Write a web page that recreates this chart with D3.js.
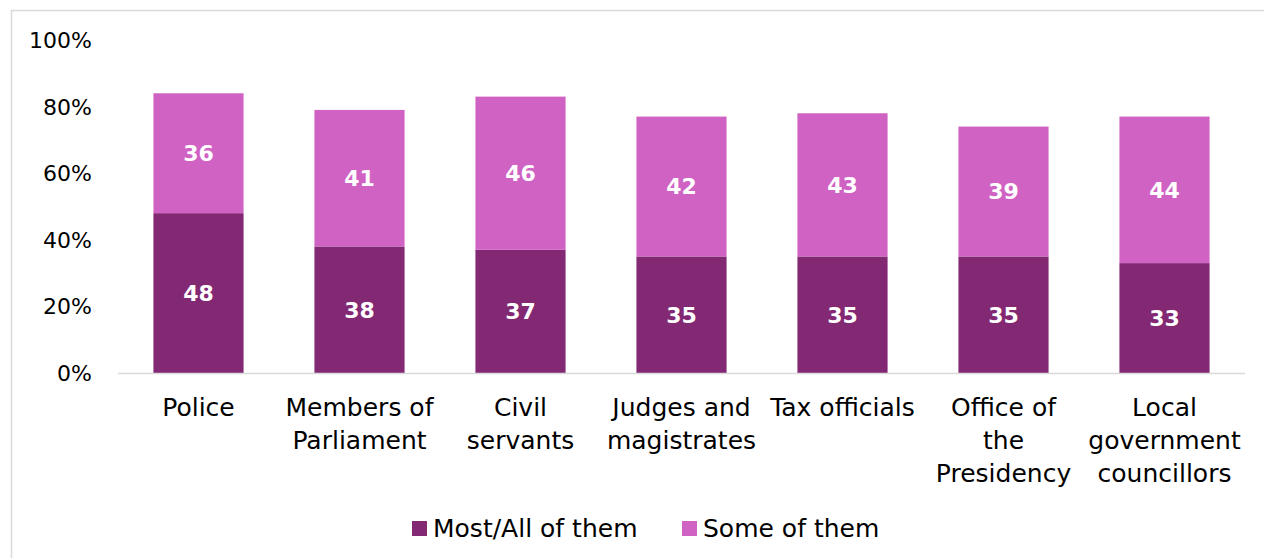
<!DOCTYPE html>
<html>
<head>
<meta charset="utf-8">
<script src="https://cdn.jsdelivr.net/npm/d3@7"></script>
<style>
  body { margin: 0; background: #fff; }
  svg { display: block; font-family: "Century Gothic", "DejaVu Sans", sans-serif; }
</style>
</head>
<body>
<div id="chart"></div>
<script>
const categories = ['Police', 'Members of Parliament', 'Civil servants', 'Judges and magistrates',
    'Tax officials', 'Office of the Presidency', 'Local government councillors'];
// how each category label wraps under the axis
const labelLines = [['Police'], ['Members of', 'Parliament'], ['Civil', 'servants'], ['Judges and', 'magistrates'],
    ['Tax officials'], ['Office of', 'the', 'Presidency'], ['Local', 'government', 'councillors']];
const mostAll = [48, 38, 37, 35, 35, 35, 33];
const some = [36, 41, 46, 42, 43, 39, 44];
const seriesNames = ['Most/All of them', 'Some of them'];
const seriesColors = ['#832873', '#d062c4'];
const yTicks = [0, 20, 40, 60, 80, 100];

const width = 1264, height = 558;
const margin = { left: 118, right: 19, top: 40, bottom: 185 };
const iw = width - margin.left - margin.right;
const ih = height - margin.top - margin.bottom;

const svg = d3.select('#chart').append('svg').attr('width', width).attr('height', height);

// chart frame (runs past the right and bottom edge, as in the original)
svg.append('rect').attr('x', 11.5).attr('y', 10.5).attr('width', width).attr('height', height)
    .attr('fill', 'none').attr('stroke', '#d9d9d9').attr('stroke-width', 1.5);

const g = svg.append('g').attr('transform', `translate(${margin.left},${margin.top})`);

const x = d3.scaleBand().domain(categories).range([0, iw]).paddingInner(0.44).paddingOuter(0.22);
const y = d3.scaleLinear().domain([0, 100]).range([ih, 0]);

const rows = categories.map((c, i) => ({ cat: c, most: mostAll[i], some: some[i] }));
const stacked = d3.stack().keys(['most', 'some'])(rows);

// y tick labels
g.append('g').selectAll('text').data(yTicks).enter().append('text')
    .attr('x', -26).attr('y', (d) => y(d)).attr('dy', '0.36em')
    .attr('text-anchor', 'end').attr('fill', '#000').style('font-size', '22px')
    .text((d) => d + '%');

// bars
stacked.forEach((layer, li) => {
    g.append('g').selectAll('rect').data(layer).enter().append('rect')
        .attr('x', (d) => x(d.data.cat)).attr('width', x.bandwidth())
        .attr('y', (d) => y(d[1])).attr('height', (d) => y(d[0]) - y(d[1]))
        .attr('fill', seriesColors[li]);
    g.append('g').selectAll('text').data(layer).enter().append('text')
        .attr('x', (d) => x(d.data.cat) + x.bandwidth() / 2)
        .attr('y', (d) => (y(d[0]) + y(d[1])) / 2).attr('dy', '0.36em')
        .attr('text-anchor', 'middle').attr('fill', '#fff')
        .style('font-size', '22px').style('font-weight', 'bold')
        .text((d) => d[1] - d[0]);
});

// baseline
g.append('line').attr('x1', 0).attr('x2', iw).attr('y1', ih + 0.5).attr('y2', ih + 0.5)
    .attr('stroke', '#d9d9d9').attr('stroke-width', 1.5);

// category labels
const catG = g.append('g');
categories.forEach((c, i) => {
    const t = catG.append('text').attr('text-anchor', 'middle').attr('fill', '#000')
        .style('font-size', '25px')
        .attr('transform', `translate(${x(c) + x.bandwidth() / 2},${ih + 43})`);
    labelLines[i].forEach((ln, j) => t.append('tspan').attr('x', 0).attr('y', j * 33).text(ln));
});

// legend
const legend = svg.append('g').attr('transform', `translate(412,528)`);
const legendX = [0, 270];
seriesNames.forEach((n, i) => {
    const item = legend.append('g').attr('transform', `translate(${legendX[i]},0)`);
    item.append('rect').attr('y', -7).attr('width', 15).attr('height', 15).attr('fill', seriesColors[i]);
    item.append('text').attr('x', 21).attr('dy', '0.36em').attr('fill', '#000')
        .style('font-size', '25px').text(n);
});
</script>
</body>
</html>
